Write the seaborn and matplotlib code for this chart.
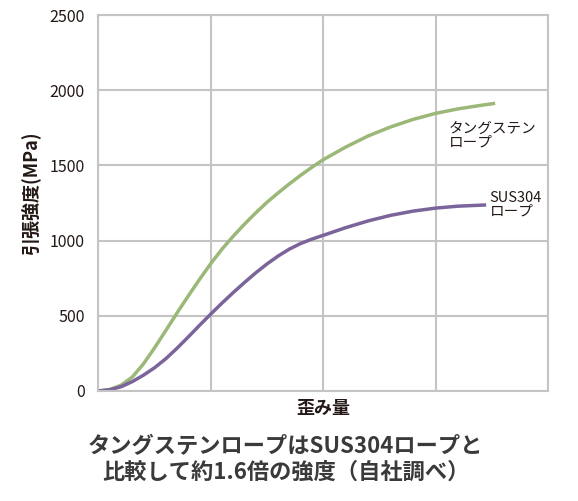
"""
Tensile strength vs strain: tungsten rope vs SUS304 rope
"""
import matplotlib
matplotlib.use('Agg')
import matplotlib.pyplot as plt
import seaborn as sns
import pandas as pd

# ================================= #
# DATA
# ================================= #
strain_w = [0, 0.1, 0.2, 0.3, 0.4, 0.5, 0.6, 0.7, 0.8, 0.9, 1.0, 1.1, 1.2, 1.3,
            1.4, 1.5, 1.6, 1.7, 1.8, 1.9, 2.0, 2.2, 2.4, 2.6, 2.8, 3.0, 3.2,
            3.4, 3.53]
stress_w = [0, 10, 38, 92, 180, 288, 403, 520, 633, 743, 848, 944, 1030, 1110,
            1185, 1255, 1318, 1378, 1435, 1488, 1538, 1622, 1696, 1756, 1806,
            1846, 1876, 1899, 1913]
strain_sus = [0, 0.1, 0.2, 0.3, 0.4, 0.5, 0.6, 0.7, 0.8, 0.9, 1.0, 1.1, 1.2,
              1.3, 1.4, 1.5, 1.6, 1.7, 1.8, 1.9, 2.0, 2.2, 2.4, 2.6, 2.8, 3.0,
              3.2, 3.45]
stress_sus = [0, 8, 28, 62, 105, 155, 215, 285, 360, 437, 512, 585, 655, 722,
              786, 845, 898, 944, 981, 1010, 1035, 1086, 1131, 1168, 1196, 1216,
              1229, 1237]
yticks = [0, 500, 1000, 1500, 2000, 2500]
xgrid = [0, 1, 2, 3, 4]

df = pd.concat([
    pd.DataFrame({'strain': strain_w, 'stress': stress_w, 'rope': 'tungsten'}),
    pd.DataFrame({'strain': strain_sus, 'stress': stress_sus, 'rope': 'sus304'}),
])
pal = {'tungsten': '#9bb878', 'sus304': '#7a6499'}

# ================================= #
# STYLE
# ================================= #
sns.set_style('white')
plt.rcParams['font.family'] = ['Noto Sans CJK JP', 'DejaVu Sans']
gridcol = '#c4c4c4'
txtcol = '#231815'

fig = plt.figure(figsize=(5.78, 5.01), dpi=100)
ax = fig.add_axes([0.1704, 0.2196, 0.7776, 0.7504])

sns.lineplot(data=df, x='strain', y='stress', hue='rope', palette=pal,
             linewidth=2.5, legend=False, ax=ax, sort=False,
             solid_joinstyle='round', solid_capstyle='butt')

ax.set_xlim(0, 4)
ax.set_ylim(0, 2500)
ax.set_xticks(xgrid)
ax.set_xticklabels([])
ax.set_yticks(yticks)
ax.set_yticklabels([str(v) for v in yticks], fontsize=11.5, color=txtcol)
ax.tick_params(length=0, pad=10)
ax.grid(True, color=gridcol, linewidth=1.5)
ax.set_axisbelow(True)
for s in ax.spines.values():
    s.set_color(gridcol)
    s.set_linewidth(1.5)

ax.set_xlabel('歪み量', fontsize=13, fontweight='bold', color=txtcol)
ax.xaxis.set_label_coords(0.5, -0.021)
ax.set_ylabel('引張強度(MPa)', fontsize=13, fontweight='bold', color=txtcol)
ax.yaxis.set_label_coords(-0.130, 0.527)

# line labels
ax.text(3.12, 1699, 'タングステン\nロープ', fontsize=10.5, color=txtcol,
        va='center', ha='left', linespacing=1.0)
ax.text(3.48, 1240, 'SUS304\nロープ', fontsize=10.5, color=txtcol,
        va='center', ha='left', linespacing=1.0)

# caption
fig.text(0.494, 0.083, 'タングステンロープはSUS304ロープと\n比較して約1.6倍の強度（自社調べ）',
         ha='center', va='center', fontsize=16, fontweight='bold', color='#3a3a3a',
         linespacing=1.15)

fig.savefig('out.png', dpi=100)
plt.close('all')
